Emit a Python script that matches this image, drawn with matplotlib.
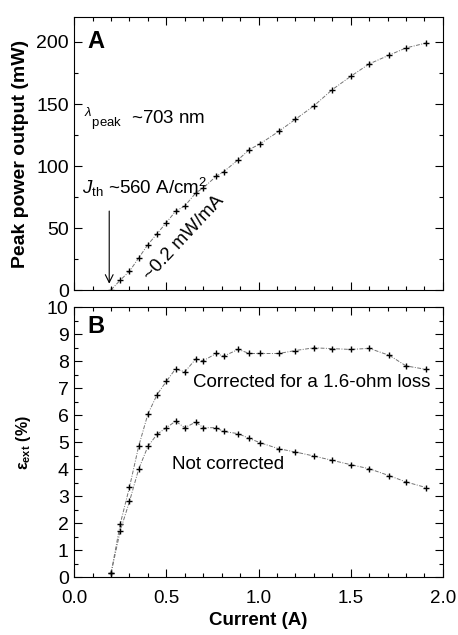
import numpy as np
import matplotlib.pyplot as plt
from matplotlib.ticker import MultipleLocator

plt.rcParams['font.family'] = ['Liberation Sans', 'DejaVu Sans']
plt.rcParams['mathtext.fontset'] = 'custom'
plt.rcParams['mathtext.rm'] = 'Liberation Sans'
plt.rcParams['mathtext.it'] = 'Liberation Sans:italic'
plt.rcParams['mathtext.bf'] = 'Liberation Sans:bold'

# current (A) for both panels
current = [0.20, 0.25, 0.30, 0.35, 0.40, 0.45, 0.50, 0.55, 0.60, 0.66,
           0.70, 0.77, 0.81, 0.89, 0.95, 1.01, 1.11, 1.20, 1.30, 1.40,
           1.50, 1.60, 1.71, 1.80, 1.91]

# panel A: peak power (mW)
power = [0.3, 8.1, 15.3, 26.0, 36.8, 45.6, 54.5, 63.6, 67.9, 78.4,
         82.4, 91.8, 95.3, 105.2, 113.3, 118.1, 128.0, 137.7, 148.5, 161.6,
         172.3, 182.3, 189.5, 195.2, 199.2]

# panel B: external efficiency (%)
eff_corrected = [0.15, 1.98, 3.34, 4.86, 6.05, 6.77, 7.26, 7.72, 7.61, 8.09,
                 8.02, 8.29, 8.19, 8.44, 8.29, 8.29, 8.29, 8.40, 8.50, 8.47,
                 8.44, 8.48, 8.22, 7.83, 7.70]
eff_raw = [0.15, 1.73, 2.81, 4.01, 4.85, 5.30, 5.54, 5.78, 5.54, 5.75,
           5.54, 5.54, 5.40, 5.32, 5.14, 4.98, 4.76, 4.64, 4.49, 4.33,
           4.17, 4.02, 3.76, 3.53, 3.32]

fig = plt.figure(figsize=(4.58, 6.35), dpi=100)
axA = fig.add_axes([0.162, 0.543, 0.805, 0.430])
axB = fig.add_axes([0.162, 0.091, 0.805, 0.425])

line_kw = dict(color='0.45', lw=0.7, ls=(0, (4, 1.5, 1, 1.5)),
               marker='+', ms=5, mew=1.0, mec='black')

def style(ax):
    ax.set_xlim(0, 2.0)
    ax.xaxis.set_major_locator(MultipleLocator(0.5))
    ax.xaxis.set_minor_locator(MultipleLocator(0.1))
    ax.tick_params(which='both', direction='in', top=True, right=True,
                   labelsize=14, width=0.8)
    ax.tick_params(which='major', length=6)
    ax.tick_params(which='minor', length=3)
    ax.tick_params(axis='y', pad=4)
    for s in ax.spines.values():
        s.set_linewidth(0.8)

# panel A
axA.plot(current, power, **line_kw)
style(axA)
axA.set_ylim(0, 220)
axA.yaxis.set_major_locator(MultipleLocator(50))
axA.yaxis.set_minor_locator(MultipleLocator(25))
axA.tick_params(labelbottom=False)
axA.set_ylabel('Peak power output (mW)', fontsize=14, fontweight='bold', labelpad=5)
axA.text(0.07, 200, 'A', fontsize=17, fontweight='bold', va='center')
axA.text(0.055, 138, r'$^{\lambda}$$_{\rm peak}$  ~703 nm', fontsize=13.5, va='center')
axA.text(0.04, 83, r'$J_{\rm th}$ ~560 A/cm$^2$', fontsize=13.5, va='center')
axA.annotate('', xy=(0.19, 3), xytext=(0.19, 66),
             arrowprops=dict(arrowstyle='->', lw=0.8, color='black',
                             mutation_scale=14))
axA.text(0.593, 42, '~0.2 mW/mA', fontsize=13.5, rotation=47,
         ha='center', va='center', rotation_mode='anchor')

# panel B
axB.plot(current, eff_corrected, **line_kw)
axB.plot(current, eff_raw, **line_kw)
style(axB)
axB.set_ylim(0, 10)
axB.yaxis.set_major_locator(MultipleLocator(1))
axB.yaxis.set_minor_locator(MultipleLocator(0.5))
axB.set_xticks([0.0, 0.5, 1.0, 1.5, 2.0])
axB.set_xticklabels(['0.0', '0.5', '1.0', '1.5', '2.0'])
axB.tick_params(axis='x', pad=9, labelsize=13.5)
axB.set_xlabel('Current (A)', fontsize=13.5, fontweight='bold', labelpad=4)
axB.set_ylabel(r'ε$_{\mathbf{ext}}$ (%)', fontsize=11.5, fontweight='bold', labelpad=10)
axB.text(0.07, 9.3, 'B', fontsize=17, fontweight='bold', va='center')
axB.text(0.643, 7.23, 'Corrected for a 1.6-ohm loss', fontsize=13.5, va='center')
axB.text(0.533, 4.18, 'Not corrected', fontsize=13.5, va='center')

fig.savefig('out.png', dpi=100)
